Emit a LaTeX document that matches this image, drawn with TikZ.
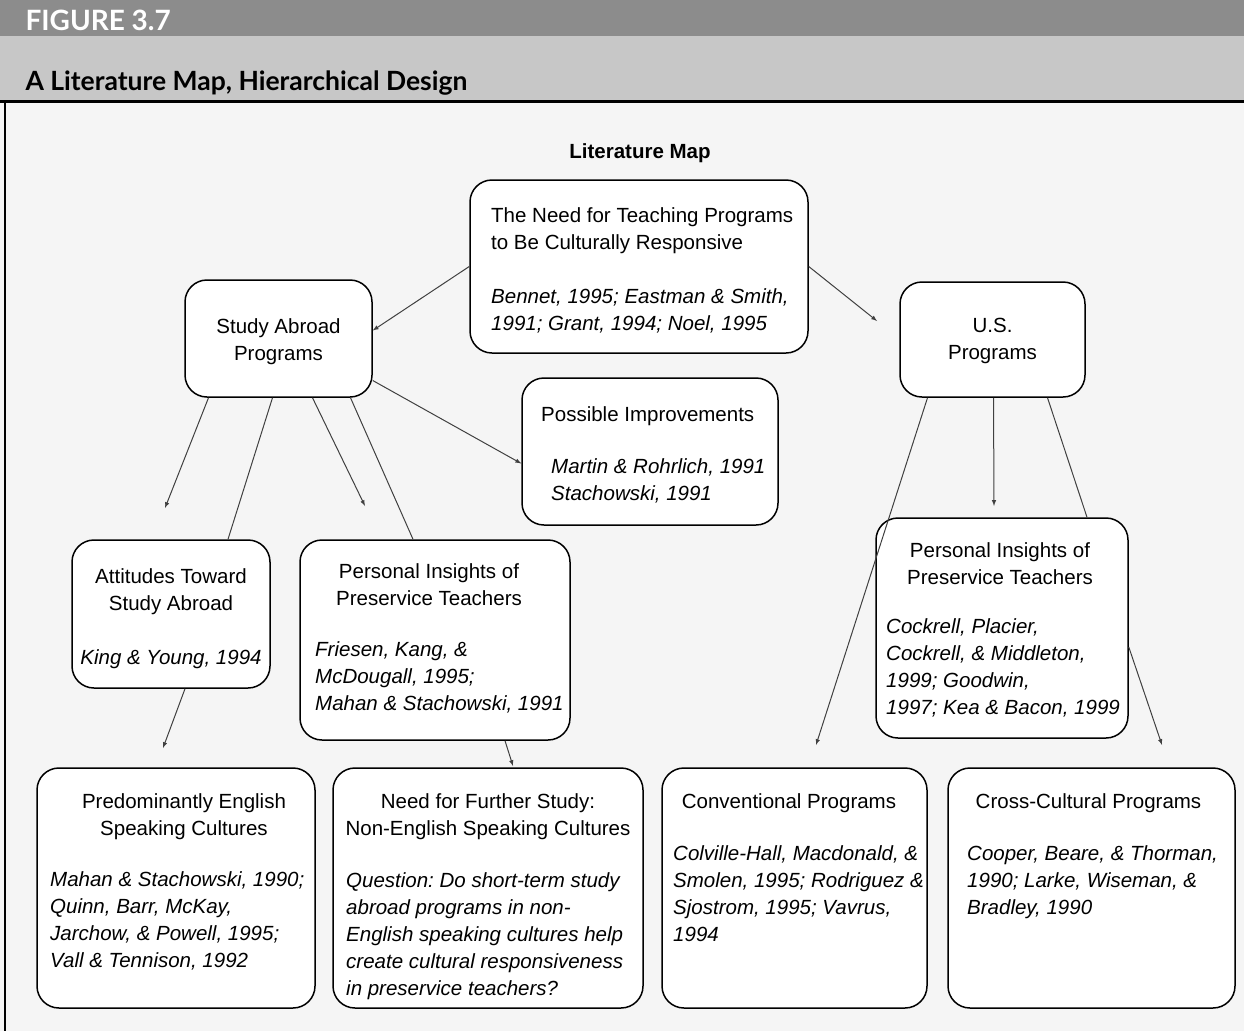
\documentclass[tikz,border=0pt]{standalone}
\usepackage{fontspec}
\setmainfont{Liberation Sans}
\newfontfamily\headfont{Lato}
\usetikzlibrary{arrows}
\definecolor{banddark}{gray}{0.55}
\definecolor{bandlight}{gray}{0.78}
\definecolor{paper}{gray}{0.96}
\frenchspacing

\begin{document}
\begin{tikzpicture}[x=1pt,y=-1pt,
  every node/.style={font=\fontsize{20.5}{27}\selectfont},
  box/.style={draw,line width=1.5pt,rounded corners=22pt,fill=white,inner sep=0pt,align=center},
  head/.style={inner sep=0pt,align=center,anchor=north},
  cite/.style={inner sep=0pt,align=left,anchor=north west,font=\fontsize{20.5}{27}\selectfont\itshape},
  link/.style={line width=1pt,black!75},
  arr/.style={link,-latex}]
\useasboundingbox (0,0) rectangle (1244,1031);
\fill[paper] (0,0) rectangle (1244,1031);
\fill[banddark] (0,0) rectangle (1244,36);
\fill[bandlight] (0,36) rectangle (1244,101);
\draw[line width=3pt] (0,101.5) -- (1244,101.5);
\draw[line width=2pt] (5,101) -- (5,1031);
\node[anchor=base west,text=white,font=\headfont\bfseries\fontsize{28}{30}\selectfont] (fig) at (22,30) {FIGURE 3.7};
\node[anchor=base west,font=\headfont\bfseries\fontsize{26.5}{30}\selectfont] (sub) at (22,90) {A Literature Map, Hierarchical Design};
\node[anchor=base,font=\fontsize{20.5}{27}\selectfont\bfseries] (map) at (640,158) {Literature Map};

\node[box,minimum width=338pt,minimum height=173pt] (need) at (639,266.5) {};
\node[cite,font=\fontsize{20.5}{27}\selectfont] (needT) at (491,207) {The Need for Teaching Programs\\to Be Culturally Responsive\\[27pt]\textit{Bennet, 1995; Eastman \& Smith,}\\\textit{1991; Grant, 1994; Noel, 1995}};
\node[box,minimum width=187pt,minimum height=117pt] (study) at (278.5,338.5) {};
\node[head] (studyT) at (278.5,318) {Study Abroad\\Programs};
\node[box,minimum width=185pt,minimum height=115pt] (us) at (992.5,339.5) {};
\node[head] (usT) at (992.5,318) {U.S.\\Programs};
\node[box,minimum width=256pt,minimum height=147pt] (poss) at (650,451.5) {};
\node[head,anchor=north west] (possT) at (541,406) {Possible Improvements};
\node[cite] (possC) at (551,458) {Martin \& Rohrlich, 1991\\Stachowski, 1991};

\node[box,minimum width=198pt,minimum height=148pt] (att) at (171,614) {};
\node[head] (attT) at (171,568) {Attitudes Toward\\Study Abroad\\[27pt]\textit{King \& Young, 1994}};
\node[box,minimum width=270pt,minimum height=200pt] (persL) at (435,640) {};
\node[head] (persLT) at (429,563) {Personal Insights of\\Preservice Teachers};
\node[cite] (persLC) at (315,641) {Friesen, Kang, \&\\McDougall, 1995;\\Mahan \& Stachowski, 1991};
\node[box,minimum width=252pt,minimum height=220pt] (persR) at (1002,628) {};
\node[head] (persRT) at (1000,542) {Personal Insights of\\Preservice Teachers};
\node[cite] (persRC) at (886,618) {Cockrell, Placier,\\Cockrell, \& Middleton,\\1999; Goodwin,\\1997; Kea \& Bacon, 1999};

\node[box,minimum width=278pt,minimum height=240pt] (pred) at (176,888) {};
\node[head] (predT) at (184,793) {Predominantly English\\Speaking Cultures};
\node[cite] (predC) at (50,871) {Mahan \& Stachowski, 1990;\\Quinn, Barr, McKay,\\Jarchow, \& Powell, 1995;\\Vall \& Tennison, 1992};
\node[box,minimum width=310pt,minimum height=240pt] (further) at (488,888) {};
\node[head] (furtherT) at (488,793) {Need for Further Study:\\Non-English Speaking Cultures};
\node[cite] (furtherC) at (346,872) {Question: Do short-term study\\abroad programs in non-\\English speaking cultures help\\create cultural responsiveness\\in preservice teachers?};
\node[box,minimum width=265pt,minimum height=240pt] (conv) at (794.5,888) {};
\node[head] (convT) at (789,793) {Conventional Programs};
\node[cite] (convC) at (673,845) {Colville-Hall, Macdonald, \&\\Smolen, 1995; Rodriguez \&\\Sjostrom, 1995; Vavrus,\\1994};
\node[box,minimum width=287pt,minimum height=240pt] (cross) at (1091.5,888) {};
\node[head] (crossT) at (1088.5,793) {Cross-Cultural Programs};
\node[cite] (crossC) at (967,845) {Cooper, Beare, \& Thorman,\\1990; Larke, Wiseman, \&\\Bradley, 1990};

\coordinate (usEnd) at (877,321);
\coordinate (attEnd) at (165,508);
\coordinate (persEnd) at (365,506);
\coordinate (predEnd) at (163,748);
\coordinate (furtherEnd) at (513,766);
\coordinate (convEnd) at (816,745);
\coordinate (usPersEnd) at (994,506);
\coordinate (crossEnd) at (1162,745);

\draw[arr] (need.west) -- ([yshift=8pt]study.east);
\draw[arr] (need.east) -- (usEnd);
\draw[arr] ([yshift=-42pt]study.east) -- ([yshift=-12pt]poss.west);
\draw[arr] ([xshift=-70pt]study.south) -- (attEnd);
\draw[link] ([xshift=-6pt]study.south) -- ([xshift=57pt]att.north);
\draw[arr] ([xshift=34pt]study.south) -- (persEnd);
\draw[link] ([xshift=72pt]study.south) -- ([xshift=-22pt]persL.north);
\draw[arr] ([xshift=14pt]att.south) -- (predEnd);
\draw[arr] ([xshift=70pt]persL.south) -- (furtherEnd);
\draw[arr] ([xshift=-65pt]us.south) -- (convEnd);
\draw[arr] ([xshift=1pt]us.south) -- (usPersEnd);
\draw[link] ([xshift=55pt]us.south) -- ([xshift=85pt]persR.north);
\draw[arr] ([yshift=-19pt]persR.east) -- (crossEnd);
\end{tikzpicture}
\end{document}
